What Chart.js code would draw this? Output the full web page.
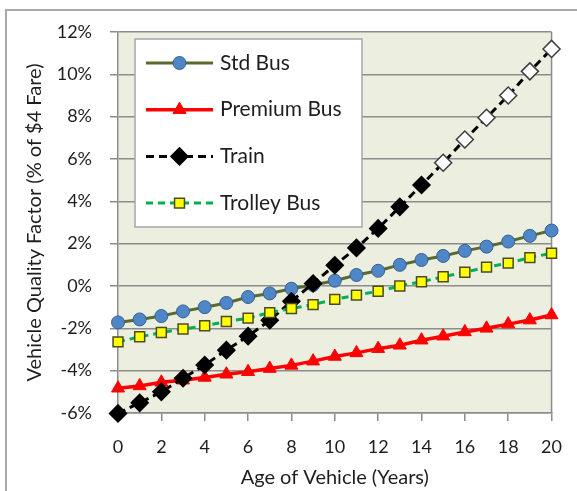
<!DOCTYPE html>
<html>
<head>
<meta charset="utf-8">
<script src="https://cdn.jsdelivr.net/npm/chart.js@4"></script>
<style>
  html, body { margin: 0; padding: 0; background: #fff; }
  #wrap { position: relative; width: 577px; height: 491px; overflow: hidden; }
  #frame { position: absolute; left: 5px; top: 9px; width: 700px; height: 700px;
           border-left: 2px solid #a9a9a9; border-top: 2px solid #a9a9a9; }
  canvas { position: absolute; left: 0; top: 0; }
</style>
</head>
<body>
<div id="wrap">
  <div id="frame"></div>
  <canvas id="qualityChart" width="577" height="491"></canvas>
</div>
<script>
// vehicle age in years
const years = [0, 1, 2, 3, 4, 5, 6, 7, 8, 9, 10, 11, 12, 13, 14, 15, 16, 17, 18, 19, 20];

// quality factor, % of $4 fare
const stdBus = [-1.72, -1.58, -1.42, -1.2, -1.0, -0.8, -0.52, -0.35, -0.13, 0.05, 0.25,
                0.52, 0.72, 1.0, 1.23, 1.42, 1.66, 1.86, 2.1, 2.37, 2.62];
const premiumBus = [-4.83, -4.72, -4.55, -4.45, -4.32, -4.17, -4.05, -3.9, -3.75, -3.55, -3.33,
                    -3.16, -2.96, -2.8, -2.56, -2.37, -2.17, -2.0, -1.8, -1.61, -1.37];
const train = [-6.02, -5.52, -5.0, -4.36, -3.73, -3.03, -2.37, -1.62, -0.72, 0.12, 0.98,
               1.8, 2.72, 3.74, 4.77, 5.82, 6.92, 7.95, 9.0, 10.14, 11.2];
const trolleyBus = [-2.64, -2.4, -2.2, -2.03, -1.88, -1.68, -1.52, -1.26, -1.06, -0.88, -0.63,
                    -0.43, -0.25, 0.0, 0.2, 0.44, 0.65, 0.89, 1.08, 1.34, 1.55];
// train points drawn hollow (from year 15 on)
const trainHollow = [false, false, false, false, false, false, false, false, false, false, false,
                     false, false, false, false, true, true, true, true, true, true];

const yTicksMin = -6, yTicksMax = 12, yStep = 2;
const xStep = 2;

const FONT = 'Lato, "Open Sans", sans-serif';
const GRID = '#8c8c8c';
const TEXT = '#1e1e1e';

function pts(values) {
    return values.map(function(v, i) { return { x: years[i], y: v }; });
}

const plotBg = {
    id: 'plotBg',
    beforeDraw(chart) {
        const { ctx, chartArea: a } = chart;
        ctx.save();
        ctx.fillStyle = '#eceee0';
        ctx.fillRect(a.left, a.top, a.right - a.left, a.bottom - a.top);
        ctx.restore();
    },
    beforeDatasetsDraw(chart) {
        const { ctx, chartArea: a } = chart;
        ctx.save();
        ctx.strokeStyle = GRID;
        ctx.lineWidth = 1.5;
        ctx.beginPath();
        ctx.moveTo(a.right, a.top);
        ctx.lineTo(a.right, a.bottom);
        ctx.stroke();
        ctx.restore();
    }
};

// legend box drawn inside the plot, upper left
const boxLegend = {
    id: 'boxLegend',
    afterDraw(chart) {
        const { ctx, chartArea: a } = chart;
        const left = a.left + 17, top = a.top + 7, w = 227, h = 188;
        ctx.save();
        ctx.fillStyle = '#ffffff';
        ctx.fillRect(left, top, w, h);
        ctx.strokeStyle = '#a6a6a6';
        ctx.lineWidth = 1.5;
        ctx.strokeRect(left, top, w, h);

        chart.data.datasets.forEach(function(ds, i) {
            const y = top + 24 + i * 46.7;
            const x0 = left + 11, x1 = left + 78, xm = (x0 + x1) / 2;
            ctx.strokeStyle = ds.borderColor;
            ctx.lineWidth = ds.borderWidth;
            ctx.setLineDash(ds.borderDash || []);
            ctx.beginPath();
            ctx.moveTo(x0, y);
            ctx.lineTo(x1, y);
            ctx.stroke();
            ctx.setLineDash([]);
            const bg = Array.isArray(ds.pointBackgroundColor) ? ds.pointBackgroundColor[0] : ds.pointBackgroundColor;
            const bc = Array.isArray(ds.pointBorderColor) ? ds.pointBorderColor[0] : ds.pointBorderColor;
            ctx.fillStyle = bg;
            ctx.strokeStyle = bc;
            ctx.lineWidth = ds.pointBorderWidth;
            Chart.helpers.drawPoint(ctx, {
                pointStyle: ds.pointStyle,
                radius: ds.pointRadius,
                rotation: 0,
                borderWidth: ds.pointBorderWidth
            }, xm, y);
            ctx.fillStyle = TEXT;
            ctx.font = '21px ' + FONT;
            ctx.textAlign = 'left';
            ctx.textBaseline = 'middle';
            ctx.fillText(ds.label, left + 85, y);
        });
        ctx.restore();
    }
};

new Chart(document.getElementById('qualityChart').getContext('2d'), {
    type: 'line',
    data: {
        datasets: [{
            label: 'Std Bus',
            data: pts(stdBus),
            order: 3,
            borderColor: '#5a6a2e',
            borderWidth: 3,
            pointStyle: 'circle',
            pointRadius: 6.5,
            pointBackgroundColor: '#4f86c8',
            pointBorderColor: '#36608f',
            pointBorderWidth: 1,
            clip: false
        }, {
            label: 'Premium Bus',
            data: pts(premiumBus),
            order: 2,
            borderColor: '#ff0000',
            borderWidth: 3.5,
            pointStyle: 'triangle',
            pointRadius: 7.5,
            pointBackgroundColor: '#ff0000',
            pointBorderColor: '#ff0000',
            pointBorderWidth: 1,
            clip: false
        }, {
            label: 'Train',
            data: pts(train),
            order: 1,
            borderColor: '#000000',
            borderWidth: 3,
            borderDash: [8, 5],
            pointStyle: 'rectRot',
            pointRadius: 8.5,
            pointBackgroundColor: trainHollow.map(function(h) { return h ? '#ffffff' : '#000000'; }),
            pointBorderColor: trainHollow.map(function(h) { return h ? '#3c3c3c' : '#000000'; }),
            pointBorderWidth: 1.5,
            clip: false
        }, {
            label: 'Trolley Bus',
            data: pts(trolleyBus),
            order: 0,
            borderColor: '#00b050',
            borderWidth: 3,
            borderDash: [7, 5],
            pointStyle: 'rect',
            pointRadius: 7,
            pointBackgroundColor: '#ffff00',
            pointBorderColor: '#4b4b22',
            pointBorderWidth: 1.5,
            clip: false
        }]
    },
    options: {
        responsive: false,
        animation: false,
        layout: { padding: { top: 32, right: 23, left: 0, bottom: 0 } },
        plugins: {
            legend: { display: false },
            tooltip: { enabled: false }
        },
        elements: { line: { tension: 0 } },
        scales: {
            x: {
                type: 'linear',
                min: years[0],
                max: years[years.length - 1],
                afterFit: function(s) { s.height = 78; },
                ticks: {
                    stepSize: xStep,
                    padding: 15,
                    color: TEXT,
                    font: { family: FONT, size: 18 }
                },
                grid: { drawOnChartArea: false, tickLength: 8, color: GRID, lineWidth: 1.5 },
                border: { color: GRID, width: 1.5 },
                title: {
                    display: true,
                    text: 'Age of Vehicle (Years)',
                    color: TEXT,
                    font: { family: FONT, size: 20 },
                    padding: { top: 0, bottom: 1 }
                }
            },
            y: {
                min: yTicksMin,
                max: yTicksMax,
                afterFit: function(s) { s.width = 118; },
                ticks: {
                    stepSize: yStep,
                    padding: 18,
                    color: TEXT,
                    font: { family: FONT, size: 18 },
                    callback: function(v) { return v + '%'; }
                },
                grid: { tickLength: 8, color: GRID, lineWidth: 1.5 },
                border: { color: GRID, width: 1.5 },
                title: {
                    display: true,
                    text: 'Vehicle Quality Factor (% of $4 Fare)',
                    color: TEXT,
                    font: { family: FONT, size: 20 },
                    padding: { top: 23, bottom: 0 }
                }
            }
        }
    },
    plugins: [plotBg, boxLegend]
});
</script>
</body>
</html>
